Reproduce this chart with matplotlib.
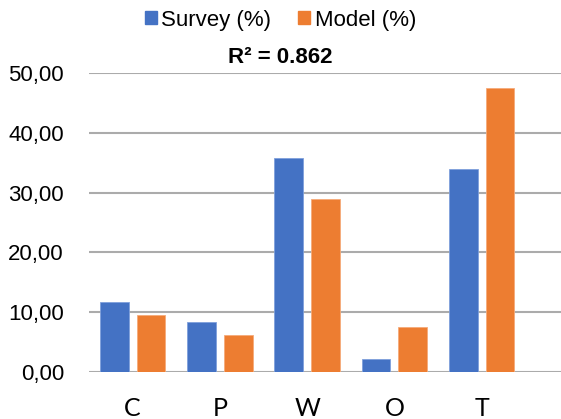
import matplotlib.pyplot as plt
import numpy as np
from matplotlib.patches import Patch

# categories and series
categories = ['C', 'P', 'W', 'O', 'T']
survey = [11.7, 8.4, 35.7, 2.2, 33.9]
model = [9.6, 6.2, 28.9, 7.5, 47.4]
yticks = [0, 10, 20, 30, 40, 50]

blue = '#4472C4'
orange = '#ED7D31'

fig = plt.figure(figsize=(5.61, 4.19), dpi=100)
ax = fig.add_axes([0.1586, 0.112, 0.8414, 0.714])

x = np.arange(len(categories))
w = 0.33
ax.bar(x - 0.21, survey, w, color=blue, edgecolor='#7fa0dc', linewidth=0.6)
ax.bar(x + 0.21, model, w, color=orange, edgecolor='#f5ab7a', linewidth=0.6)

ax.set_ylim(0, 50)
ax.set_xlim(-0.5, 4.91)
ax.set_yticks(yticks)
ax.set_yticklabels([('%.2f' % v).replace('.', ',') for v in yticks], fontsize=16, family='Liberation Sans')
ax.set_xticks(x)
ax.set_xticklabels(categories, fontsize=18, family='Lato')
ax.tick_params(axis='both', length=0)
ax.tick_params(axis='y', pad=18)
ax.tick_params(axis='x', pad=18)

ax.grid(axis='y', color='#ABABAB', linewidth=1.5)
ax.set_axisbelow(True)
for s in ax.spines.values():
    s.set_visible(False)

handles = [Patch(color=blue, label='Survey (%)'), Patch(color=orange, label='Model (%)')]
fig.legend(handles=handles, loc='center', bbox_to_anchor=(0.5, 0.952), ncol=2, frameon=False,
           prop={'family': 'Liberation Sans', 'size': 16}, handlelength=0.55, handleheight=0.55,
           handletextpad=0.2, columnspacing=1.2)
fig.text(0.5, 0.862, 'R² = 0.862', ha='center', va='center', fontsize=16,
         fontweight='bold', family='Liberation Sans')

fig.savefig('out.png', dpi=100)
